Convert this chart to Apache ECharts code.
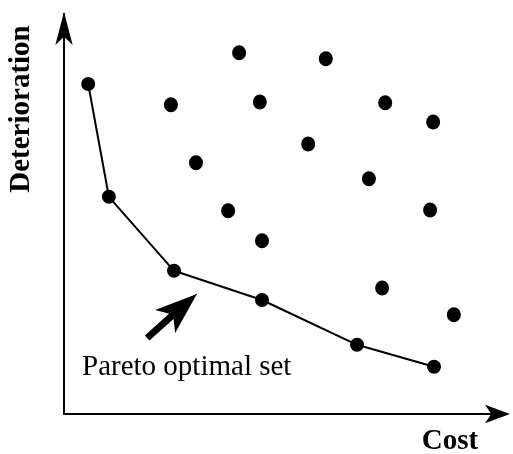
<!DOCTYPE html>
<html>
<head>
<meta charset="utf-8">
<script src="https://cdn.jsdelivr.net/npm/echarts@6/dist/echarts.min.js"></script>
<style>
  html, body { margin: 0; padding: 0; background: #fff; }
  #chart { width: 513px; height: 454px; }
</style>
</head>
<body>
<div id="chart"></div>
<script>
// pareto front (cost, deterioration) - arbitrary 0..100 units
const paretoCost = [5.5, 10.2, 25.0, 45.0, 66.6, 84.1];
const paretoDet = [82.5, 54.3, 35.8, 28.5, 17.3, 11.8];

// other (dominated) solutions
const otherCost = [39.8, 59.5, 24.3, 44.5, 73.0, 83.9, 30.0, 55.5, 69.3, 37.3, 83.2, 45.0, 72.3, 88.6];
const otherDet = [90.3, 88.8, 77.3, 78.0, 77.8, 73.0, 62.8, 67.5, 58.8, 50.8, 51.0, 43.3, 31.5, 24.8];

// annotation arrow: tail, start of head, tip
const arrowTail = [18.9, 19.0];
const arrowNeck = [25.9, 25.9];
const arrowTip = [30.2, 30.0];

const chart = echarts.init(document.getElementById('chart'));

const serif = '"Liberation Serif", "DejaVu Serif", serif';

const option = {
  animation: false,
  backgroundColor: '#fff',
  grid: {
    left: 64,
    top: 14,
    width: 440,
    height: 400,
  },
  xAxis: {
    type: 'value',
    min: 0,
    max: 100,
    axisLine: {
      show: true,
      symbol: ['none', 'arrow'],
      symbolSize: [14, 25],
      symbolOffset: [0, 6],
      lineStyle: { color: '#000', width: 2 },
    },
    axisTick: { show: false },
    axisLabel: { show: false },
    splitLine: { show: false },
  },
  yAxis: {
    type: 'value',
    min: 0,
    max: 100,
    axisLine: {
      show: true,
      symbol: ['none', 'arrow'],
      symbolSize: [13, 33],
      symbolOffset: [0, 2],
      lineStyle: { color: '#000', width: 2 },
    },
    axisTick: { show: false },
    axisLabel: { show: false },
    splitLine: { show: false },
  },
  series: [
    {
      name: 'Pareto optimal set',
      type: 'line',
      data: paretoCost.map((c, i) => [c, paretoDet[i]]),
      symbol: 'circle',
      symbolSize: 14,
      itemStyle: { color: '#000', opacity: 1 },
      lineStyle: { color: '#000', width: 2 },
      markLine: {
        silent: true,
        symbol: ['none', 'none'],
        label: { show: false },
        data: [
          [
            { coord: arrowNeck, symbol: 'none' },
            { coord: arrowTip, symbol: 'arrow', symbolSize: [23, 42] },
          ],
          [
            { coord: arrowTail, symbol: 'none', lineStyle: { color: '#000', width: 7, type: 'solid', cap: 'butt' } },
            { coord: arrowNeck, symbol: 'none' },
          ],
        ],
        lineStyle: { color: '#000', width: 1, type: 'solid' },
      },
    },
    {
      name: 'solutions',
      type: 'scatter',
      data: otherCost.map((c, i) => [c, otherDet[i]]),
      symbol: 'circle',
      symbolSize: [14, 15],
      itemStyle: { color: '#000', opacity: 1 },
    },
  ],
  graphic: [
    {
      type: 'text',
      x: 22,
      y: 109,
      rotation: Math.PI / 2,
      style: {
        text: 'Deterioration',
        font: 'bold 29px ' + serif,
        fill: '#000',
        align: 'center',
        verticalAlign: 'middle',
      },
    },
    {
      type: 'text',
      x: 450,
      y: 442,
      style: {
        text: 'Cost',
        font: 'bold 29px ' + serif,
        fill: '#000',
        align: 'center',
        verticalAlign: 'middle',
      },
    },
    {
      type: 'text',
      x: 82,
      y: 367,
      style: {
        text: 'Pareto optimal set',
        font: '29px ' + serif,
        fill: '#000',
        align: 'left',
        verticalAlign: 'middle',
      },
    },
  ],
};

chart.setOption(option);
</script>
</body>
</html>
